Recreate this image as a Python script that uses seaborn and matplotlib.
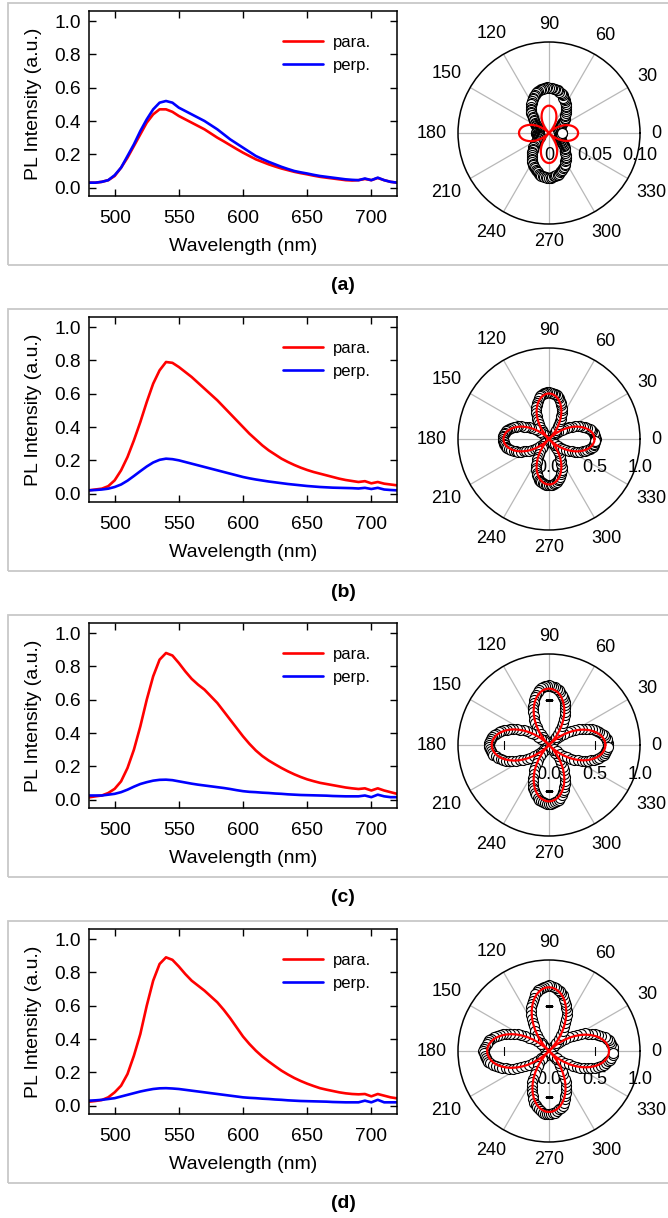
import numpy as np
import pandas as pd
import matplotlib
matplotlib.use("Agg")
import matplotlib.pyplot as plt
import matplotlib.transforms as mtransforms
from matplotlib.patches import Rectangle
import seaborn as sns

sns.set_theme(style="white", rc={
    "axes.edgecolor": "black", "text.color": "black", "axes.labelcolor": "black",
    "xtick.color": "black", "ytick.color": "black", "axes.linewidth": 1.1,
})
plt.rcParams['font.family'] = ['Liberation Sans', 'DejaVu Sans']

# ---------------- spectra data ----------------
wavelength = [480, 485, 490, 495, 500, 505, 510, 515, 520, 525, 530, 535, 540, 545, 550, 555, 560,
              565, 570, 575, 580, 585, 590, 595, 600, 605, 610, 615, 620, 625, 630, 635, 640, 645,
              650, 655, 660, 665, 670, 675, 680, 685, 690, 695, 700, 705, 710, 715, 720]

para_a = [0.03, 0.03, 0.035, 0.045, 0.07, 0.12, 0.18, 0.25, 0.32, 0.39,
          0.44, 0.47, 0.47, 0.455, 0.43, 0.41, 0.39, 0.37, 0.35, 0.325,
          0.30, 0.278, 0.255, 0.232, 0.21, 0.19, 0.17, 0.155, 0.14, 0.127,
          0.115, 0.105, 0.095, 0.087, 0.08, 0.072, 0.065, 0.06, 0.055, 0.05,
          0.045, 0.043, 0.045, 0.052, 0.045, 0.058, 0.045, 0.035, 0.03]
perp_a = [0.03, 0.03, 0.035, 0.045, 0.075, 0.12, 0.19, 0.26, 0.34, 0.41,
          0.47, 0.51, 0.52, 0.51, 0.48, 0.46, 0.44, 0.42, 0.40, 0.375,
          0.35, 0.32, 0.29, 0.265, 0.24, 0.215, 0.19, 0.172, 0.155, 0.14,
          0.125, 0.112, 0.10, 0.092, 0.085, 0.077, 0.07, 0.065, 0.06, 0.055,
          0.05, 0.047, 0.045, 0.055, 0.045, 0.06, 0.045, 0.035, 0.03]
para_b = [0.02, 0.025, 0.03, 0.045, 0.08, 0.14, 0.22, 0.32, 0.43, 0.55,
          0.66, 0.74, 0.79, 0.785, 0.76, 0.73, 0.70, 0.665, 0.63, 0.595,
          0.56, 0.52, 0.48, 0.44, 0.40, 0.36, 0.325, 0.29, 0.26, 0.235,
          0.21, 0.19, 0.172, 0.156, 0.142, 0.13, 0.12, 0.11, 0.10, 0.09,
          0.082, 0.076, 0.07, 0.075, 0.062, 0.07, 0.06, 0.055, 0.05]
perp_b = [0.02, 0.022, 0.025, 0.03, 0.04, 0.055, 0.078, 0.106, 0.135, 0.163,
          0.187, 0.203, 0.21, 0.207, 0.20, 0.19, 0.18, 0.17, 0.16, 0.15,
          0.14, 0.13, 0.12, 0.11, 0.10, 0.092, 0.085, 0.079, 0.073, 0.068,
          0.063, 0.058, 0.054, 0.05, 0.046, 0.043, 0.04, 0.038, 0.036, 0.035,
          0.034, 0.033, 0.031, 0.035, 0.028, 0.035, 0.025, 0.022, 0.02]
para_c = [0.014, 0.02, 0.025, 0.04, 0.065, 0.11, 0.19, 0.30, 0.44, 0.60,
          0.74, 0.84, 0.88, 0.865, 0.82, 0.77, 0.725, 0.69, 0.66, 0.62,
          0.58, 0.53, 0.48, 0.43, 0.38, 0.335, 0.295, 0.262, 0.235, 0.212,
          0.19, 0.17, 0.152, 0.136, 0.122, 0.111, 0.101, 0.094, 0.087, 0.08,
          0.073, 0.068, 0.064, 0.068, 0.055, 0.068, 0.055, 0.045, 0.035]
perp_c = [0.025, 0.025, 0.025, 0.03, 0.035, 0.045, 0.06, 0.078, 0.094, 0.105,
          0.114, 0.119, 0.12, 0.117, 0.11, 0.103, 0.096, 0.09, 0.085, 0.08,
          0.075, 0.07, 0.064, 0.057, 0.051, 0.047, 0.045, 0.042, 0.04, 0.037,
          0.035, 0.032, 0.03, 0.028, 0.027, 0.026, 0.025, 0.024, 0.022, 0.021,
          0.02, 0.02, 0.02, 0.025, 0.015, 0.03, 0.02, 0.015, 0.015]
para_d = [0.024, 0.028, 0.034, 0.05, 0.08, 0.12, 0.19, 0.30, 0.43, 0.60,
          0.75, 0.85, 0.89, 0.875, 0.835, 0.79, 0.75, 0.72, 0.69, 0.655,
          0.62, 0.575, 0.525, 0.47, 0.415, 0.37, 0.33, 0.295, 0.265, 0.237,
          0.21, 0.187, 0.166, 0.148, 0.132, 0.118, 0.105, 0.096, 0.088, 0.08,
          0.074, 0.07, 0.068, 0.07, 0.056, 0.07, 0.06, 0.05, 0.044]
perp_d = [0.03, 0.032, 0.035, 0.04, 0.045, 0.055, 0.065, 0.075, 0.085, 0.093,
          0.10, 0.104, 0.105, 0.103, 0.10, 0.095, 0.09, 0.085, 0.08, 0.075,
          0.07, 0.065, 0.06, 0.055, 0.05, 0.047, 0.045, 0.042, 0.04, 0.037,
          0.035, 0.032, 0.03, 0.028, 0.027, 0.026, 0.025, 0.024, 0.022, 0.021,
          0.02, 0.02, 0.02, 0.03, 0.02, 0.035, 0.02, 0.02, 0.02]

# ---------------- polar data ----------------
meas_angles = np.arange(0, 360, 2)   # measured polarizer angles (deg)
fit_angles = np.arange(0, 360, 3)    # angles of fitted curve (deg)

pol_a = [0.014, 0.014, 0.013, 0.013, 0.012, 0.012, 0.012, 0.011, 0.011, 0.011,
         0.011, 0.012, 0.012, 0.013, 0.014, 0.015, 0.016, 0.017, 0.018, 0.020,
         0.021, 0.023, 0.024, 0.026, 0.027, 0.029, 0.030, 0.032, 0.034, 0.035,
         0.037, 0.038, 0.040, 0.041, 0.042, 0.044, 0.045, 0.046, 0.047, 0.048,
         0.048, 0.049, 0.049, 0.050, 0.050,
         0.050, 0.051, 0.050, 0.050, 0.049, 0.049, 0.048, 0.048, 0.047, 0.046,
         0.045, 0.044, 0.042, 0.041, 0.040, 0.038, 0.037, 0.035, 0.033, 0.032,
         0.030, 0.029, 0.027, 0.025, 0.024, 0.022, 0.021, 0.019, 0.018, 0.017,
         0.016, 0.015, 0.014, 0.013, 0.012, 0.012, 0.011, 0.011, 0.011, 0.012,
         0.012, 0.012, 0.013, 0.013, 0.014,
         0.014, 0.014, 0.013, 0.013, 0.013, 0.012, 0.012, 0.011, 0.011, 0.011,
         0.011, 0.011, 0.012, 0.013, 0.014, 0.015, 0.016, 0.017, 0.019, 0.020,
         0.022, 0.023, 0.025, 0.026, 0.028, 0.029, 0.031, 0.032, 0.034, 0.035,
         0.037, 0.038, 0.039, 0.041, 0.042, 0.043, 0.044, 0.045, 0.046, 0.047,
         0.048, 0.048, 0.049, 0.049, 0.049,
         0.049, 0.049, 0.049, 0.048, 0.048, 0.047, 0.047, 0.046, 0.045, 0.044,
         0.043, 0.042, 0.041, 0.039, 0.038, 0.036, 0.035, 0.033, 0.032, 0.030,
         0.028, 0.027, 0.025, 0.024, 0.022, 0.021, 0.019, 0.018, 0.017, 0.016,
         0.015, 0.014, 0.013, 0.013, 0.012, 0.012, 0.011, 0.011, 0.012, 0.012,
         0.012, 0.013, 0.013, 0.013, 0.014]
pol_b = [0.52, 0.51, 0.51, 0.50, 0.50, 0.48, 0.47, 0.46, 0.44, 0.42, 0.40, 0.37, 0.35, 0.32, 0.29,
         0.26, 0.23, 0.20, 0.17, 0.13, 0.10, 0.07, 0.03,
         0.03, 0.06, 0.10, 0.13, 0.17, 0.20, 0.23, 0.26, 0.29, 0.32, 0.35, 0.37, 0.40, 0.42, 0.44,
         0.46, 0.47, 0.49, 0.50, 0.50, 0.51, 0.51,
         0.52, 0.52, 0.51, 0.51, 0.50, 0.49, 0.48, 0.46, 0.44, 0.42, 0.40, 0.38, 0.35, 0.32, 0.29,
         0.26, 0.23, 0.20, 0.16, 0.13, 0.10, 0.06, 0.03,
         0.02, 0.06, 0.09, 0.13, 0.16, 0.19, 0.23, 0.26, 0.29, 0.31, 0.34, 0.37, 0.39, 0.41, 0.43,
         0.45, 0.47, 0.48, 0.49, 0.50, 0.51, 0.51,
         0.51, 0.51, 0.50, 0.50, 0.49, 0.48, 0.47, 0.45, 0.43, 0.41, 0.39, 0.37, 0.34, 0.31, 0.29,
         0.26, 0.22, 0.19, 0.16, 0.12, 0.09, 0.05, 0.02,
         0.03, 0.06, 0.10, 0.13, 0.16, 0.20, 0.23, 0.26, 0.29, 0.32, 0.35, 0.37, 0.40, 0.42, 0.44,
         0.46, 0.47, 0.48, 0.49, 0.50, 0.51, 0.51,
         0.51, 0.51, 0.51, 0.50, 0.49, 0.48, 0.46, 0.45, 0.43, 0.41, 0.39, 0.37, 0.34, 0.31, 0.28,
         0.25, 0.22, 0.19, 0.16, 0.12, 0.09, 0.05, 0.02,
         0.03, 0.06, 0.09, 0.13, 0.16, 0.19, 0.22, 0.26, 0.29, 0.32, 0.34, 0.37, 0.40, 0.42, 0.44,
         0.46, 0.47, 0.49, 0.50, 0.50, 0.51, 0.51]
pol_c = [0.65, 0.65, 0.64, 0.64, 0.62, 0.61, 0.60, 0.57, 0.55, 0.53, 0.50, 0.47, 0.44, 0.40, 0.37,
         0.33, 0.29, 0.25, 0.21, 0.16, 0.12, 0.08, 0.03,
         0.03, 0.08, 0.12, 0.16, 0.21, 0.25, 0.29, 0.33, 0.37, 0.40, 0.44, 0.47, 0.50, 0.53, 0.55,
         0.57, 0.60, 0.61, 0.62, 0.64, 0.64, 0.65,
         0.66, 0.65, 0.65, 0.64, 0.63, 0.61, 0.59, 0.57, 0.55, 0.52, 0.49, 0.46, 0.43, 0.40, 0.36,
         0.32, 0.28, 0.24, 0.20, 0.15, 0.11, 0.07, 0.02,
         0.03, 0.07, 0.11, 0.15, 0.20, 0.24, 0.28, 0.32, 0.36, 0.39, 0.43, 0.46, 0.49, 0.52, 0.55,
         0.57, 0.59, 0.61, 0.63, 0.64, 0.65, 0.66,
         0.66, 0.66, 0.65, 0.64, 0.63, 0.62, 0.60, 0.58, 0.55, 0.53, 0.50, 0.47, 0.44, 0.40, 0.36,
         0.33, 0.29, 0.25, 0.20, 0.16, 0.12, 0.07, 0.03,
         0.03, 0.07, 0.12, 0.16, 0.20, 0.24, 0.28, 0.32, 0.36, 0.40, 0.43, 0.47, 0.50, 0.52, 0.55,
         0.57, 0.59, 0.61, 0.62, 0.63, 0.64, 0.65,
         0.65, 0.65, 0.64, 0.63, 0.62, 0.61, 0.59, 0.57, 0.54, 0.52, 0.49, 0.46, 0.43, 0.39, 0.36,
         0.32, 0.28, 0.24, 0.20, 0.16, 0.11, 0.07, 0.02,
         0.03, 0.07, 0.11, 0.16, 0.20, 0.24, 0.28, 0.32, 0.36, 0.40, 0.43, 0.46, 0.49, 0.52, 0.55,
         0.57, 0.59, 0.61, 0.62, 0.63, 0.64, 0.65]
pol_d = [0.70, 0.70, 0.70, 0.69, 0.68, 0.67, 0.65, 0.63, 0.60, 0.57, 0.54, 0.51, 0.47, 0.44, 0.40,
         0.36, 0.31, 0.27, 0.22, 0.17, 0.13, 0.08, 0.03,
         0.03, 0.08, 0.12, 0.17, 0.22, 0.27, 0.31, 0.36, 0.40, 0.44, 0.48, 0.51, 0.54, 0.57, 0.60,
         0.63, 0.65, 0.67, 0.68, 0.70, 0.71, 0.72,
         0.72, 0.72, 0.71, 0.70, 0.69, 0.68, 0.66, 0.64, 0.61, 0.58, 0.55, 0.52, 0.48, 0.44, 0.40,
         0.36, 0.32, 0.27, 0.22, 0.17, 0.12, 0.08, 0.03,
         0.03, 0.07, 0.12, 0.17, 0.22, 0.26, 0.31, 0.35, 0.39, 0.43, 0.47, 0.51, 0.54, 0.57, 0.60,
         0.62, 0.65, 0.67, 0.68, 0.69, 0.70, 0.71,
         0.72, 0.72, 0.71, 0.70, 0.69, 0.68, 0.66, 0.63, 0.61, 0.58, 0.55, 0.51, 0.48, 0.44, 0.40,
         0.36, 0.31, 0.27, 0.22, 0.17, 0.12, 0.08, 0.03,
         0.03, 0.07, 0.12, 0.17, 0.21, 0.26, 0.30, 0.35, 0.39, 0.43, 0.47, 0.50, 0.53, 0.56, 0.59,
         0.61, 0.63, 0.65, 0.67, 0.68, 0.69, 0.69,
         0.69, 0.69, 0.68, 0.68, 0.67, 0.65, 0.64, 0.62, 0.59, 0.56, 0.53, 0.50, 0.46, 0.43, 0.39,
         0.35, 0.30, 0.26, 0.21, 0.17, 0.12, 0.07, 0.03,
         0.03, 0.08, 0.12, 0.17, 0.22, 0.26, 0.31, 0.35, 0.39, 0.43, 0.47, 0.50, 0.54, 0.57, 0.60,
         0.62, 0.64, 0.66, 0.68, 0.69, 0.70, 0.70]

fit_a = [0.032, 0.0318, 0.0313, 0.0304, 0.0292, 0.0277, 0.0259, 0.0238, 0.0214, 0.0188, 0.016, 0.013, 0.0099, 0.0067, 0.0034, 0.0,
         0.0032, 0.0062, 0.0093, 0.0122, 0.015, 0.0176, 0.0201, 0.0223, 0.0243, 0.026, 0.0274, 0.0285, 0.0293, 0.0299,
         0.030, 0.0299, 0.0293, 0.0285, 0.0274, 0.026, 0.0243, 0.0223, 0.0201, 0.0176, 0.015, 0.0122, 0.0093, 0.0062, 0.0032, 0.0,
         0.0035, 0.0069, 0.0102, 0.0134, 0.0165, 0.0194, 0.0221, 0.0245, 0.0267, 0.0286, 0.0302, 0.0314, 0.0323, 0.0328,
         0.033, 0.0328, 0.0323, 0.0314, 0.0302, 0.0286, 0.0267, 0.0245, 0.0221, 0.0194, 0.0165, 0.0134, 0.0102, 0.0069, 0.0035, 0.0,
         0.0035, 0.0069, 0.0102, 0.0134, 0.0165, 0.0194, 0.0221, 0.0245, 0.0267, 0.0286, 0.0302, 0.0314, 0.0323, 0.0328,
         0.033, 0.0328, 0.0323, 0.0314, 0.0302, 0.0286, 0.0267, 0.0245, 0.0221, 0.0194, 0.0165, 0.0134, 0.0102, 0.0069, 0.0035, 0.0,
         0.0034, 0.0067, 0.0099, 0.013, 0.016, 0.0188, 0.0214, 0.0238, 0.0259, 0.0277, 0.0292, 0.0304, 0.0313, 0.0318]
fit_b = [0.50, 0.498, 0.489, 0.476, 0.457, 0.433, 0.405, 0.372, 0.335, 0.294, 0.25, 0.204, 0.155, 0.104, 0.053, 0.0,
         0.053, 0.104, 0.155, 0.204, 0.25, 0.294, 0.335, 0.372, 0.405, 0.433, 0.457, 0.476, 0.489, 0.498,
         0.50, 0.498, 0.489, 0.476, 0.457, 0.433, 0.405, 0.372, 0.335, 0.294, 0.25, 0.204, 0.155, 0.104, 0.053, 0.0,
         0.053, 0.104, 0.155, 0.204, 0.25, 0.294, 0.335, 0.372, 0.405, 0.433, 0.457, 0.476, 0.489, 0.498,
         0.50, 0.498, 0.489, 0.476, 0.457, 0.433, 0.405, 0.372, 0.335, 0.294, 0.25, 0.204, 0.155, 0.104, 0.053, 0.0,
         0.053, 0.104, 0.155, 0.204, 0.25, 0.294, 0.335, 0.372, 0.405, 0.433, 0.457, 0.476, 0.489, 0.498,
         0.50, 0.498, 0.489, 0.476, 0.457, 0.433, 0.405, 0.372, 0.335, 0.294, 0.25, 0.204, 0.155, 0.104, 0.053, 0.0,
         0.053, 0.104, 0.155, 0.204, 0.25, 0.294, 0.335, 0.372, 0.405, 0.433, 0.457, 0.476, 0.489, 0.498]
fit_c = [0.62, 0.617, 0.606, 0.59, 0.567, 0.537, 0.502, 0.461, 0.415, 0.365, 0.31, 0.252, 0.192, 0.129, 0.065, 0.0,
         0.065, 0.129, 0.192, 0.252, 0.31, 0.365, 0.415, 0.461, 0.502, 0.537, 0.567, 0.59, 0.606, 0.617,
         0.62, 0.617, 0.606, 0.59, 0.567, 0.537, 0.502, 0.461, 0.415, 0.365, 0.31, 0.252, 0.192, 0.129, 0.065, 0.0,
         0.066, 0.131, 0.195, 0.256, 0.315, 0.37, 0.421, 0.468, 0.51, 0.546, 0.576, 0.599, 0.616, 0.627,
         0.63, 0.627, 0.616, 0.599, 0.576, 0.546, 0.51, 0.468, 0.421, 0.37, 0.315, 0.256, 0.195, 0.131, 0.066, 0.0,
         0.065, 0.129, 0.192, 0.252, 0.31, 0.365, 0.415, 0.461, 0.502, 0.537, 0.567, 0.59, 0.606, 0.617,
         0.62, 0.617, 0.606, 0.59, 0.567, 0.537, 0.502, 0.461, 0.415, 0.365, 0.31, 0.252, 0.192, 0.129, 0.065, 0.0,
         0.065, 0.129, 0.192, 0.252, 0.31, 0.365, 0.415, 0.461, 0.502, 0.537, 0.567, 0.59, 0.606, 0.617]
fit_d = [0.66, 0.657, 0.645, 0.628, 0.603, 0.572, 0.534, 0.49, 0.442, 0.388, 0.33, 0.269, 0.204, 0.137, 0.069, 0.0,
         0.074, 0.146, 0.216, 0.285, 0.35, 0.412, 0.468, 0.52, 0.566, 0.606, 0.64, 0.666, 0.685, 0.697,
         0.70, 0.697, 0.685, 0.666, 0.64, 0.606, 0.566, 0.52, 0.468, 0.412, 0.35, 0.285, 0.216, 0.146, 0.074, 0.0,
         0.071, 0.141, 0.21, 0.277, 0.34, 0.40, 0.455, 0.505, 0.55, 0.589, 0.622, 0.647, 0.665, 0.677,
         0.68, 0.677, 0.665, 0.647, 0.622, 0.589, 0.55, 0.505, 0.455, 0.40, 0.34, 0.277, 0.21, 0.141, 0.071, 0.0,
         0.07, 0.139, 0.207, 0.273, 0.335, 0.394, 0.448, 0.498, 0.542, 0.58, 0.612, 0.637, 0.655, 0.667,
         0.67, 0.667, 0.655, 0.637, 0.612, 0.58, 0.542, 0.498, 0.448, 0.394, 0.335, 0.273, 0.207, 0.139, 0.07, 0.0,
         0.069, 0.137, 0.204, 0.269, 0.33, 0.388, 0.442, 0.49, 0.534, 0.572, 0.603, 0.628, 0.645, 0.657]

panel_labels = ['(a)', '(b)', '(c)', '(d)']
r_max = [0.10, 1.0, 1.0, 1.0]
r_ticks = [[0, 0.05, 0.10], [0, 0.5, 1.0], [0, 0.5, 1.0], [0, 0.5, 1.0]]
r_ticklabels = [['0', '0.05', '0.10'], ['0.0', '0.5', '1.0'], ['0.0', '0.5', '1.0'], ['0.0', '0.5', '1.0']]
theta_ticks = list(range(0, 360, 30))

panels = [
    (para_a, perp_a, pol_a, fit_a),
    (para_b, perp_b, pol_b, fit_b),
    (para_c, perp_c, pol_c, fit_c),
    (para_d, perp_d, pol_d, fit_d),
]

W, H = 668, 1218
DPI = 100
fig = plt.figure(figsize=(W / DPI, H / DPI), dpi=DPI)


def fx(px):
    return px / W


def fy(py):
    return 1 - py / H


ROW = 306
R_PX = 91
for i, (para, perp, pol, fit) in enumerate(panels):
    top = 3 + ROW * i
    # panel frame
    fig.patches.append(Rectangle((fx(8), fy(top + 262)), fx(720), 262 / H,
                                 transform=fig.transFigure, fill=False,
                                 edgecolor='#c8c8c8', lw=1.3, zorder=0))
    fig.text(fx(343), fy(top + 283), panel_labels[i], ha='center', va='center',
             fontsize=14, fontweight='bold')

    # ------- spectra -------
    ax = fig.add_axes([fx(89), fy(top + 193), fx(397 - 89), 185 / H])
    n = min(len(wavelength), len(para), len(perp))
    sns.lineplot(x=wavelength[:n], y=para[:n], color='#ff0000', lw=1.9, ax=ax,
                 label='para.', sort=False, estimator=None)
    sns.lineplot(x=wavelength[:n], y=perp[:n], color='#0000ff', lw=1.9, ax=ax,
                 label='perp.', sort=False, estimator=None)
    ax.set_xlim(480, 720)
    ax.set_ylim(-0.05, 1.06)
    ax.set_xticks([500, 550, 600, 650, 700])
    ax.set_yticks([0, 0.2, 0.4, 0.6, 0.8, 1.0])
    ax.set_yticklabels(['0.0', '0.2', '0.4', '0.6', '0.8', '1.0'])
    ax.tick_params(direction='in', length=5, width=1, top=True, right=True,
                   bottom=True, left=True, labelsize=13.8, colors='black')
    ax.tick_params(axis='x', pad=10)
    ax.tick_params(axis='y', pad=6)
    for sp in ax.spines.values():
        sp.set_color('black')
        sp.set_linewidth(1.1)
    ax.set_xlabel('Wavelength (nm)', fontsize=14, labelpad=8)
    ax.set_ylabel('PL Intensity (a.u.)', fontsize=14, labelpad=9)
    ax.legend(loc='upper left', bbox_to_anchor=(0.63, 0.87), frameon=False,
              fontsize=12, handlelength=2.4, handletextpad=0.6, labelspacing=0.45,
              borderpad=0, borderaxespad=0)

    # ------- polar -------
    cy = 133 + ROW * i
    cx = 549
    pax = fig.add_axes([fx(cx - R_PX), fy(cy + R_PX), fx(2 * R_PX), 2 * R_PX / H],
                       projection='polar')
    rmax = r_max[i]
    m = min(len(meas_angles), len(pol))
    sns.scatterplot(x=np.deg2rad(meas_angles[:m]), y=pol[:m], ax=pax, marker='o', s=52,
                    color='white', edgecolor='black', linewidth=0.8, zorder=3, legend=False)
    k = min(len(fit_angles), len(fit))
    th_fit = np.append(np.deg2rad(fit_angles[:k]), np.deg2rad(fit_angles[0]) + 2 * np.pi)
    r_fit = np.append(np.asarray(fit[:k]), fit[0])
    sns.lineplot(x=th_fit, y=r_fit, ax=pax, color='#ff0000', lw=1.6, sort=False,
                 estimator=None, zorder=4)
    pax.set_ylim(0, rmax)
    pax.set_yticks([])
    pax.set_xticks(np.deg2rad(theta_ticks))
    pax.set_xticklabels([])
    pax.xaxis.grid(True, color='#b8b8b8', lw=0.9)
    pax.yaxis.grid(False)
    pax.spines['polar'].set_color('black')
    pax.spines['polar'].set_linewidth(1.1)
    pax.set_xlabel('')
    pax.set_ylabel('')
    pax.tick_params(axis='x', length=0)

    # angle labels around the circle
    em = 13 * DPI / 72.0
    for a in theta_ticks:
        lab = str(a)
        w = len(lab) * 0.556 * em
        h = 0.716 * em
        ang = np.deg2rad(a)
        dist = R_PX + 11 + abs(np.cos(ang)) * w / 2 + abs(np.sin(ang)) * h / 2
        pax.text(ang, dist / R_PX * rmax, lab, ha='center', va='center', fontsize=13,
                 zorder=5)

    # radial tick labels (along 0 deg, shifted below the axis)
    dy = 22 if i == 0 else 29
    off = mtransforms.ScaledTranslation(0, -dy / DPI, fig.dpi_scale_trans)
    for rv, rl in zip(r_ticks[i], r_ticklabels[i]):
        pax.text(0, rv, rl, transform=pax.transData + off, ha='center', va='center',
                 fontsize=13, zorder=2.5)
    # small radial-axis tick marks
    if i > 0:
        mid = r_ticks[i][1]
        pax.plot([0, np.pi], [mid, mid], ls='none', marker='|', ms=6, mew=0.8,
                 color='black', zorder=2.6)
        pax.plot([np.pi / 2, 3 * np.pi / 2], [mid, mid], ls='none', marker='_', ms=6,
                 mew=0.8, color='black', zorder=2.6)

fig.savefig('out.png', dpi=DPI)
